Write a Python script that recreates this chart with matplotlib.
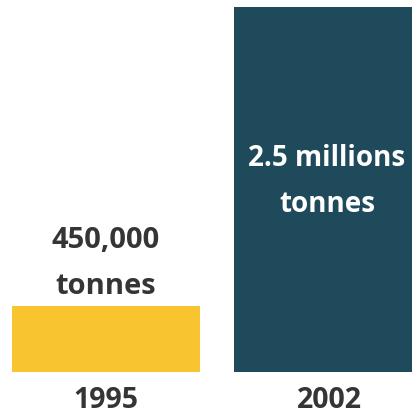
import matplotlib
matplotlib.use("Agg")
import matplotlib.pyplot as plt

# tonnage, in millions of tonnes
years = ["1995", "2002"]
tonnes_m = [0.45, 2.5]
value_lines = [["450,000", "tonnes"], ["2.5 millions", "tonnes"]]
bar_colors = ["#F8C530", "#1F4A5B"]

PX = 0.72  # points per pixel at dpi 100
TEXT = "#353535"

plt.rcParams["font.family"] = ["Open Sans", "DejaVu Sans"]

fig = plt.figure(figsize=(4.12, 4.15), dpi=100)
ax = fig.add_axes([12 / 412, 43 / 415, 400 / 412, 365 / 415])

x = list(range(len(years)))
ax.bar(x, tonnes_m, width=[0.866, 0.82], color=bar_colors, edgecolor="none")
ax.set_xlim(-0.433, 1.41)
ax.set_ylim(0, tonnes_m[-1])
ax.axis("off")

# small bar: labels sit above the bar
ax.annotate(value_lines[0][0], (x[0], tonnes_m[0]), xytext=(0, 58 * PX),
            textcoords="offset points", ha="center", va="baseline",
            fontsize=21, fontweight="bold", color=TEXT)
ax.annotate(value_lines[0][1], (x[0], tonnes_m[0]), xytext=(0, 12 * PX),
            textcoords="offset points", ha="center", va="baseline",
            fontsize=21, fontweight="bold", color=TEXT)

# tall bar: labels inside, white
ax.annotate(value_lines[1][0], (x[1], tonnes_m[1]), xytext=(4 * PX, -159 * PX),
            textcoords="offset points", ha="center", va="baseline",
            fontsize=20, fontweight="bold", color="white")
ax.annotate(value_lines[1][1], (x[1], tonnes_m[1]), xytext=(4 * PX, -205 * PX),
            textcoords="offset points", ha="center", va="baseline",
            fontsize=20, fontweight="bold", color="white")

# year labels under the bars
for xi, yr, dx in zip(x, years, [0, 6]):
    ax.annotate(yr, (xi, 0), xycoords=("data", "axes fraction"),
                xytext=(dx * PX, -36 * PX), textcoords="offset points",
                ha="center", va="baseline", fontsize=20.5, fontweight="bold",
                color=TEXT, annotation_clip=False)

fig.savefig("out.png", dpi=100)
